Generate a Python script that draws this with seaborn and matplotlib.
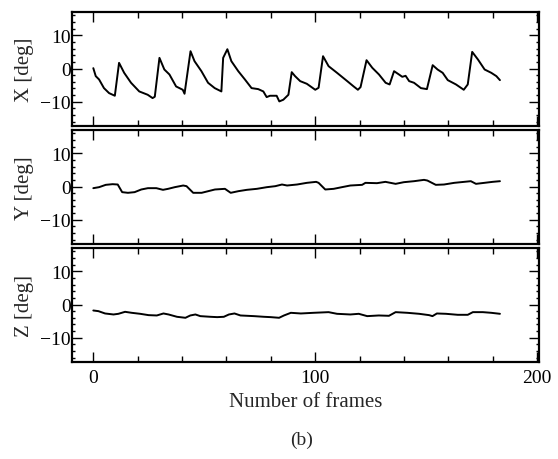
import matplotlib
matplotlib.use("Agg")
import matplotlib.pyplot as plt
from matplotlib.ticker import MultipleLocator, FixedLocator
import seaborn as sns
import pandas as pd

# ---------------------------------------------------------------------------
# values (frame, angle in degrees)
# ---------------------------------------------------------------------------
x_frames = [0, 1.1, 2.6, 4.8, 7.1, 9.7, 11.6, 13.9, 17, 20.7, 24.5, 26.7, 27.7,
            29.8, 32, 34.3, 37.3, 40.3, 41.1, 43.8, 45.6, 48.7, 51.7, 54.7,
            57.7, 58.5, 60.4, 62.2, 65.3, 68.3, 71.3, 74.3, 76.6, 78.1, 79.6,
            82.6, 83.8, 85.6, 87.9, 89.4, 90.9, 93.2, 96.2, 100, 101.5, 103.5,
            106, 109.8, 114.4, 117.3, 119.2, 120.4, 123.1, 125.7, 128.7, 131.7,
            133.5, 135.5, 137.7, 139.2, 140.7, 142.3, 144.5, 147.6, 150.3,
            152.9, 155.1, 157.4, 159.7, 163.4, 166.9, 168.7, 170.7, 173.3,
            176.3, 179.3, 181.6, 183.2]
x_deg = [0.1, -2.3, -3.3, -5.9, -7.4, -8.2, 1.7, -1.3, -4.3, -6.9, -7.9, -8.9,
         -8.5, 3.2, -0.3, -1.8, -5.4, -6.4, -7.6, 5.2, 2.2, -0.8, -4.3, -5.9,
         -6.9, 3.2, 5.8, 2.2, -0.8, -3.3, -5.9, -6.2, -6.9, -8.6, -8.2, -8.2,
         -9.9, -9.4, -7.9, -1.1, -2.3, -3.8, -4.6, -6.4, -5.8, 3.7, 0.7, -1.3,
         -3.8, -5.4, -6.4, -5.6, 2.5, 0.2, -1.8, -4.3, -4.8, -0.8, -1.8, -2.5,
         -2.2, -3.8, -4.3, -5.9, -6.2, 1.0, -0.3, -1.3, -3.5, -4.8, -6.4,
         -4.8, 5.0, 2.7, -0.3, -1.3, -2.3, -3.5]

y_frames = [0, 2.6, 5.6, 8.7, 11, 13, 15.6, 18.6, 21.6, 24.6, 28.4, 31.4, 33.7,
            36.7, 40.5, 42, 45, 48.8, 51.8, 54.8, 59.3, 61.9, 65.4, 69.2, 73.7,
            78.2, 82, 85, 87.3, 91.8, 96.2, 100.4, 101.5, 104.5, 108.3, 112,
            115.8, 121.1, 122.6, 127.8, 131.6, 136.2, 139.9, 144.5, 149, 150.5,
            154.3, 158, 162.6, 167.1, 170.1, 172.4, 176.2, 179.9, 183.2]
y_deg = [-0.5, -0.2, 0.5, 0.7, 0.6, -1.7, -1.9, -1.7, -0.9, -0.5, -0.5, -1.0,
         -0.7, -0.2, 0.3, 0.1, -1.9, -1.9, -1.4, -0.9, -0.7, -1.9, -1.4, -1.0,
         -0.7, -0.2, 0.1, 0.6, 0.3, 0.6, 1.1, 1.4, 1.1, -0.9, -0.7, -0.2, 0.3,
         0.5, 1.1, 1.0, 1.4, 0.8, 1.3, 1.6, 2.0, 1.8, 0.5, 0.6, 1.1, 1.4, 1.6,
         0.8, 1.1, 1.4, 1.6]

z_frames = [0, 2.3, 5.3, 9.1, 11.3, 14.3, 17.3, 21.1, 24.9, 28.6, 31.6, 33.9,
            37.7, 41.5, 43.7, 46, 48.2, 52.8, 55.8, 58.8, 61.1, 63.6, 66.3,
            72.4, 76.9, 79.9, 83.7, 85.9, 89, 93.5, 99.2, 106, 109.8, 115.8,
            119.6, 123.4, 128.6, 133.2, 136.2, 141.5, 146.8, 151.3, 152.8,
            154.8, 158.9, 164.2, 168.7, 171, 175.5, 179.3, 183.2]
z_deg = [-1.8, -2.0, -2.7, -3.0, -2.8, -2.2, -2.5, -2.8, -3.2, -3.3, -2.7,
         -3.0, -3.7, -4.0, -3.3, -3.0, -3.5, -3.7, -3.8, -3.7, -3.0, -2.7,
         -3.3, -3.5, -3.7, -3.8, -4.0, -3.3, -2.5, -2.7, -2.5, -2.3, -2.8,
         -3.0, -2.8, -3.5, -3.3, -3.4, -2.3, -2.5, -2.8, -3.2, -3.5, -2.7,
         -2.8, -3.1, -3.1, -2.3, -2.3, -2.5, -2.8]

panel_labels = ["X [deg]", "Y [deg]", "Z [deg]"]


def style_axis(ax, show_xlabels):
    ax.set_xlim(-9.6, 200.8)
    ax.set_ylim(-17.3, 17)
    ax.xaxis.set_major_locator(FixedLocator([0, 100, 200]))
    ax.xaxis.set_minor_locator(MultipleLocator(20))
    ax.yaxis.set_major_locator(FixedLocator([-10, 0, 10]))
    ax.yaxis.set_minor_locator(MultipleLocator(2))
    ax.tick_params(which="both", direction="in", top=True, right=True,
                   width=1.0, labelsize=14, colors="black")
    ax.tick_params(which="major", length=7)
    ax.tick_params(axis="x", which="minor", length=4)
    ax.tick_params(axis="y", which="minor", length=2.5)
    ax.tick_params(axis="y", which="major", pad=1)
    if not show_xlabels:
        ax.tick_params(axis="x", labelbottom=False)
    else:
        ax.tick_params(axis="x", pad=5)
    for sp in ax.spines.values():
        sp.set_visible(True)
        sp.set_linewidth(1.6)
        sp.set_color("black")


def main():
    sns.set_style("ticks")
    plt.rcParams["font.family"] = ["Liberation Serif", "DejaVu Serif"]

    fig = plt.figure(figsize=(5.58, 4.60), dpi=100)
    left = 72 / 558
    width = (539 - 72) / 558
    tops = [13, 131, 249]
    h = 114
    series = [(x_frames, x_deg), (y_frames, y_deg), (z_frames, z_deg)]

    for i, (top, (fr, deg)) in enumerate(zip(tops, series)):
        ax = fig.add_axes([left, 1 - (top + h) / 460, width, h / 460])
        df = pd.DataFrame({"frame": fr, "deg": deg})
        sns.lineplot(data=df, x="frame", y="deg", ax=ax, color="black",
                     linewidth=1.4, sort=False)
        style_axis(ax, i == 2)
        ax.set_xlabel("")
        ax.set_ylabel(panel_labels[i], fontsize=15)
        ax.yaxis.set_label_coords(-0.082, 0.5)

    fig.text(0.547, 0.125, "Number of frames", ha="center", va="center", fontsize=15)
    fig.text(0.54, 0.043, "(b)", ha="center", va="center", fontsize=14)
    fig.savefig("out.png", dpi=100)


if __name__ == "__main__":
    main()
